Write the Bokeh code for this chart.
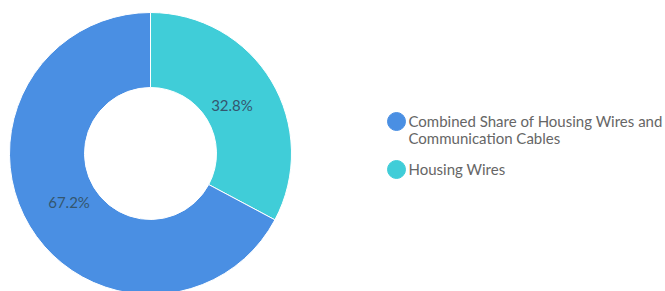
import math
from bokeh.plotting import figure
from bokeh.models import ColumnDataSource, Range1d
from bokeh.core.properties import value
from bokeh.embed import file_html
from bokeh.resources import INLINE

categories = ["Housing Wires", "Combined Share of Housing Wires and\nCommunication Cables"]
shares = [32.8, 67.2]
colors = ["#40cdd8", "#4a8fe3"]
label_texts = ["32.8%", "67.2%"]

W, H = 665, 291
p = figure(width=W, height=H, output_backend="svg", toolbar_location=None,
           x_range=Range1d(0, W), y_range=Range1d(0, H), min_border=0)
p.axis.visible = False
p.grid.visible = False
p.outline_line_color = None
p.background_fill_color = "white"
p.border_fill_color = "white"

cx, cy = 150, 138
r_out, r_in = 141, 66

starts, ends, lx, ly = [], [], [], []
a = math.pi / 2
total = sum(shares)
for s in shares:
    sweep = 2 * math.pi * s / total
    end = a
    start = a - sweep
    starts.append(start)
    ends.append(end)
    mid = (start + end) / 2
    lx.append(cx + 95 * math.cos(mid))
    ly.append(cy + 95 * math.sin(mid))
    a = start

src = ColumnDataSource(dict(start=starts, end=ends, color=colors, lx=lx, ly=ly, lab=label_texts))
p.annular_wedge(x=cx, y=cy, inner_radius=r_in, outer_radius=r_out,
                start_angle="start", end_angle="end", color="color",
                line_color="white", line_width=1, source=src)
p.text(x="lx", y="ly", text="lab", source=src, text_align="center", text_baseline="middle",
       text_font=value("Lato"), text_font_size="15px", text_color="#34566f")

# legend (order: combined first, then housing wires)
leg_order = [1, 0]
leg_x = 396
leg_cy = [H - 121, H - 169]
p.scatter(x=[leg_x] * 2, y=leg_cy, size=18, marker="circle",
          color=[colors[i] for i in leg_order])
tx, ty, tt = [], [], []
for k, i in enumerate(leg_order):
    for j, line in enumerate(categories[i].split("\n")):
        tx.append(leg_x + 12)
        ty.append(leg_cy[k] + 1 - 17 * j)
        tt.append(line)
p.text(x=tx, y=ty, text=tt, text_align="left", text_baseline="middle",
       text_font=value("Lato"), text_font_size="15px", text_color="#666666")

open("out.html", "w").write(file_html(p, INLINE))
